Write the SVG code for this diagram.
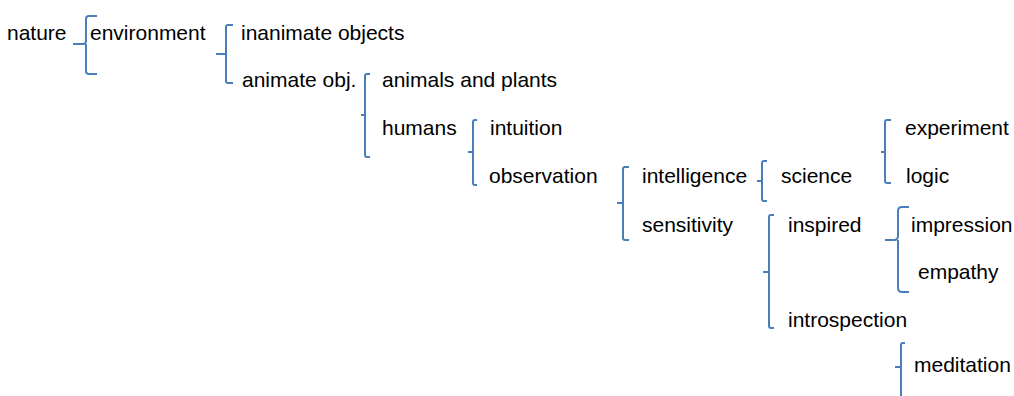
<svg xmlns="http://www.w3.org/2000/svg" width="1014" height="396" viewBox="0 0 1014 396">
<style>
text{font-family:"Liberation Sans",Arial,sans-serif;font-size:21px;fill:#000}
.br{fill:none;stroke:#4A7EBB;stroke-width:2;stroke-linecap:butt;stroke-linejoin:round}
</style>
<rect width="1014" height="396" fill="#fff"/>
<g id="connectors">
<path class="br" d="M97 16 H89 Q86 16 86 19 V41 Q86 44 83 44 H73 M86 44 V71 Q86 74 89 74 H97"/>
<path class="br" d="M233 25 H228 Q226 25 226 27 V81 Q226 83 228 83 H233 M226 54 H216"/>
<path class="br" d="M370 74 H367 Q365 74 365 76 V155 Q365 157 367 157 H370 M365 115 H361"/>
<path class="br" d="M477 120 H475 Q473 120 473 122 V183 Q473 185 475 185 H477 M473 152 H468"/>
<path class="br" d="M629 167 H625 Q623 167 623 169 V238 Q623 240 625 240 H629 M623 203 H617"/>
<path class="br" d="M767 161 H764 Q762 161 762 163 V199 Q762 201 764 201 H767 M762 181 H757"/>
<path class="br" d="M891 120 H887 Q885 120 885 122 V181 Q885 183 887 183 H891 M885 152 H881"/>
<path class="br" d="M774 215 H771 Q769 215 769 217 V326 Q769 328 771 328 H774 M769 272 H763"/>
<path class="br" d="M909 207 H902 Q898 207 898 211 V236 Q898 240 894 240 H885 M898 240 V288 Q898 292 902 292 H909"/>
<path class="br" d="M905 343 H903 Q901 343 901 345 V396 M901 367 H895"/>
</g>
<g id="n-nature"><text x="7" y="40">nature</text></g>
<g id="n-environment"><text x="90" y="40">environment</text></g>
<g id="n-inanimate"><text x="241" y="40">inanimate objects</text></g>
<g id="n-animate"><text x="242" y="87">animate obj.</text></g>
<g id="n-animals"><text x="382" y="87">animals and plants</text></g>
<g id="n-humans"><text x="382" y="135">humans</text></g>
<g id="n-intuition"><text x="490" y="135">intuition</text></g>
<g id="n-observation"><text x="489" y="183">observation</text></g>
<g id="n-experiment"><text x="905" y="135">experiment</text></g>
<g id="n-intelligence"><text x="642" y="183">intelligence</text></g>
<g id="n-science"><text x="781" y="183">science</text></g>
<g id="n-logic"><text x="906" y="183">logic</text></g>
<g id="n-sensitivity"><text x="642" y="232">sensitivity</text></g>
<g id="n-inspired"><text x="788" y="232">inspired</text></g>
<g id="n-impression"><text x="911" y="232">impression</text></g>
<g id="n-empathy"><text x="918" y="279">empathy</text></g>
<g id="n-introspection"><text x="788" y="327">introspection</text></g>
<g id="n-meditation"><text x="914" y="372">meditation</text></g>
</svg>
